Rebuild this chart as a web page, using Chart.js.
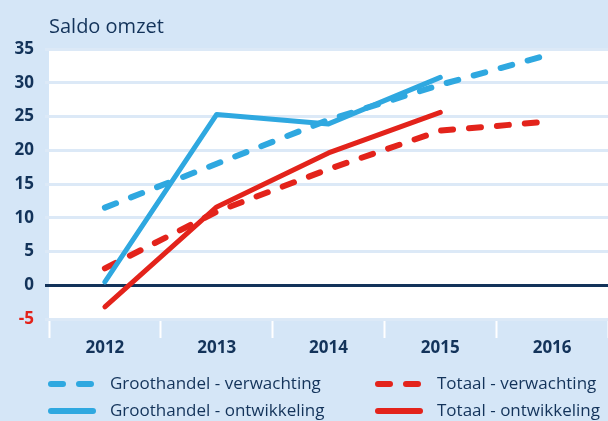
<!DOCTYPE html>
<html lang="nl">
<head>
  <meta charset="UTF-8">
  <title>Saldo omzet</title>
  <script src="https://cdn.jsdelivr.net/npm/chart.js"></script>
  <style>
    html, body { margin: 0; padding: 0; background: #d5e6f7; }
    #wrap { width: 608px; height: 421px; position: relative; }
  </style>
</head>
<body>
<div id="wrap"><canvas id="saldoChart"></canvas></div>
<script>
  // gegevens
  const jaren = ['2012', '2013', '2014', '2015', '2016'];
  const grootVerwachting = [11.5, 18.0, 24.5, 29.7, 34.3];
  const grootOntwikkeling = [0.5, 25.3, 23.9, 30.8, null];
  const totaalVerwachting = [2.5, 10.9, 17.2, 22.9, 24.3];
  const totaalOntwikkeling = [-3.2, 11.6, 19.6, 25.6, null];
  const yTicks = [-5, 0, 5, 10, 15, 20, 25, 30, 35];

  const BLAUW = '#2fa8e0';
  const ROOD = '#e3231b';
  const NAVY = '#13335a';
  const ACHTERGROND = '#d5e6f7';
  const RASTER = '#dce9f7';
  const FONT = "'Open Sans', sans-serif";

  // achtergrond en wit plotvlak
  const bgPlugin = {
    id: 'bg',
    beforeDraw(chart) {
      const c = chart.ctx, a = chart.chartArea;
      c.save();
      c.fillStyle = ACHTERGROND;
      c.fillRect(0, 0, chart.width, chart.height);
      c.fillStyle = '#ffffff';
      c.fillRect(a.left, a.top, a.right - a.left, a.bottom - a.top);
      c.restore();
    }
  };

  // titel + legenda zelf tekenen
  const legendPlugin = {
    id: 'eigenLegenda',
    afterDraw(chart) {
      const c = chart.ctx;
      c.save();
      c.fillStyle = NAVY;
      c.font = '20px ' + FONT;
      c.textBaseline = 'middle';
      c.fillText('Saldo omzet', 49, 27);

      const plekken = [[48, 384], [48, 411], [375, 384], [375, 411]];
      chart.data.datasets.forEach((ds, i) => {
        const [x, y] = plekken[i];
        c.beginPath();
        c.lineWidth = 6;
        c.lineCap = 'round';
        c.strokeStyle = ds.borderColor;
        c.setLineDash(ds.borderDash || []);
        c.moveTo(x + 3, y);
        c.lineTo(x + 45, y);
        c.stroke();
        c.setLineDash([]);
        c.fillStyle = NAVY;
        c.font = '17px ' + FONT;
        c.fillText(ds.label, x + 62, y);
      });
      c.restore();
    }
  };

  const ctx = document.getElementById('saldoChart').getContext('2d');
  new Chart(ctx, {
    type: 'line',
    data: {
      labels: jaren,
      datasets: [
        { label: 'Groothandel - verwachting', data: grootVerwachting, borderColor: BLAUW, borderDash: [12, 16], borderWidth: 6 },
        { label: 'Groothandel - ontwikkeling', data: grootOntwikkeling, borderColor: BLAUW, borderWidth: 5 },
        { label: 'Totaal - verwachting', data: totaalVerwachting, borderColor: ROOD, borderDash: [12, 16], borderWidth: 6 },
        { label: 'Totaal - ontwikkeling', data: totaalOntwikkeling, borderColor: ROOD, borderWidth: 5 }
      ]
    },
    options: {
      responsive: true,
      maintainAspectRatio: false,
      animation: false,
      layout: { padding: { top: 49, right: 0, left: 0, bottom: 0 } },
      elements: {
        point: { radius: 0 },
        line: { tension: 0, borderCapStyle: 'round', borderJoinStyle: 'round' }
      },
      plugins: { legend: { display: false }, title: { display: false }, tooltip: { enabled: false } },
      scales: {
        x: {
          offset: true,
          border: { display: false },
          grid: { offset: true, drawOnChartArea: false, drawTicks: true, tickLength: 19, tickColor: '#ffffff', tickWidth: 2, color: '#ffffff' },
          ticks: { color: NAVY, font: { family: FONT, size: 17, weight: 'bold' }, padding: 0, maxRotation: 0 },
          afterFit(scale) { scale.height = 102; }
        },
        y: {
          min: -5,
          max: 35,
          afterBuildTicks(scale) { scale.ticks = yTicks.map(v => ({ value: v })); },
          border: { display: false },
          grid: {
            tickLength: 4,
            lineWidth: 3,
            color: c => c.tick && c.tick.value === 0 ? NAVY : RASTER
          },
          ticks: {
            padding: 11,
            color: c => c.tick && c.tick.value < 0 ? ROOD : NAVY,
            font: { family: FONT, size: 17, weight: 'bold' }
          },
          afterFit(scale) { scale.width = 49; }
        }
      }
    },
    plugins: [bgPlugin, legendPlugin]
  });
</script>
</body>
</html>
